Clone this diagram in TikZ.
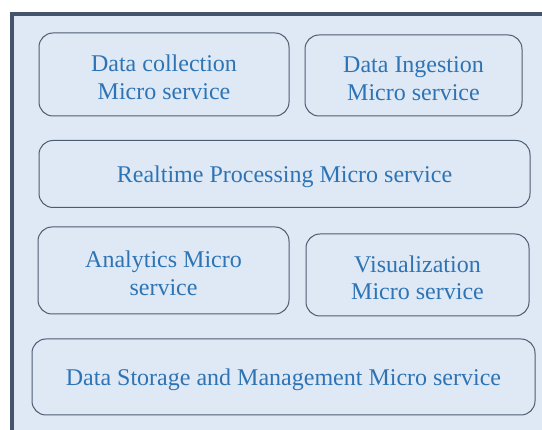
\documentclass[tikz,border=0pt]{standalone}
\usepackage{fontspec}
\setmainfont{Liberation Serif}
\definecolor{panelfill}{HTML}{DEE9F5}
\definecolor{panelframe}{HTML}{44546A}
\definecolor{boxline}{HTML}{4E5C71}
\definecolor{svctext}{HTML}{2E74B5}
\tikzset{
  service/.style={draw=boxline, line width=1pt, rounded corners=14pt,
    inner sep=0pt},
  svclabel/.style={align=center, text=svctext, yshift=-3pt,
    font=\fontsize{24}{27.5}\selectfont},
}
\begin{document}
\begin{tikzpicture}[x=1pt,y=-1pt]
  \useasboundingbox (0,0) rectangle (542,430);
  % panel background with its top and left frame
  \fill[panelfill] (12,14) rectangle (545,433);
  \draw[panelframe, line width=3.6pt] (12,433) -- (12,14) -- (545,14);
  % service boxes, each caption set as a centred label
  \node[service, minimum width=250pt, minimum height=83pt,
    label={[svclabel]center:{Data collection\\Micro service}}] (collect) at (164,74.5) {};
  \node[service, minimum width=217pt, minimum height=81pt,
    label={[svclabel]center:{Data Ingestion\\Micro service}}] (ingest) at (413.5,75.5) {};
  \node[service, minimum width=491pt, minimum height=67pt,
    label={[svclabel]center:{Realtime Processing Micro service}}] (realtime) at (284.5,174) {};
  \node[service, minimum width=251pt, minimum height=87pt,
    label={[svclabel]center:{Analytics Micro\\service}}] (analytics) at (163.5,270.5) {};
  \node[service, minimum width=223pt, minimum height=82pt,
    label={[svclabel]center:{Visualization\\Micro service}}] (visual) at (417.5,275) {};
  \node[service, minimum width=503pt, minimum height=76pt,
    label={[svclabel]center:{Data Storage and Management Micro service}}] (storage) at (283.5,377) {};
\end{tikzpicture}
\end{document}
